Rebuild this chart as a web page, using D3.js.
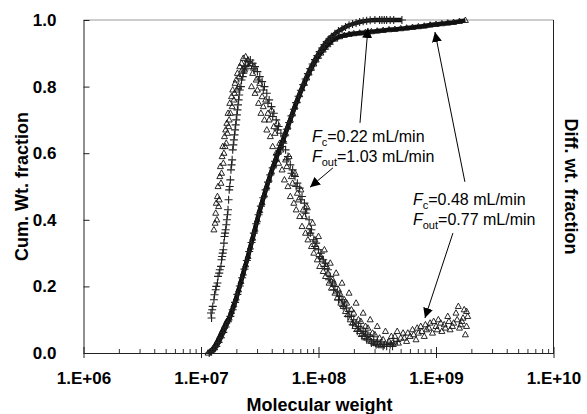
<!DOCTYPE html>
<html>
<head>
<meta charset="utf-8">
<script src="https://cdn.jsdelivr.net/npm/d3@7"></script>
<style>
  body { margin: 0; background: #fff; }
  svg { display: block; }
  text { font-family: "Liberation Sans", Arial, Helvetica, sans-serif; }
</style>
</head>
<body>
<svg id="chart" width="587" height="414"></svg>
<script>
// Axis ticks
const decadeTicks = [1e6, 1e7, 1e8, 1e9, 1e10];
const fractionTicks = [0, 0.2, 0.4, 0.6, 0.8, 1.0];

// Cumulative weight fraction, Fc = 0.22 mL/min (crosses): [log10 MW, fraction]
const cumCross = [
  [7.07,0.000],[7.09,0.004],[7.11,0.010],[7.13,0.020],[7.15,0.032],[7.17,0.046],[7.19,0.062],
  [7.21,0.078],[7.23,0.094],[7.25,0.110],[7.27,0.130],[7.29,0.152],[7.31,0.176],[7.33,0.201],
  [7.35,0.226],[7.37,0.252],[7.39,0.278],[7.41,0.305],[7.43,0.332],[7.45,0.360],[7.47,0.388],
  [7.49,0.415],[7.51,0.441],[7.53,0.466],[7.55,0.490],[7.57,0.513],[7.59,0.535],[7.61,0.556],
  [7.63,0.576],[7.65,0.596],[7.67,0.615],[7.69,0.633],[7.71,0.652],[7.73,0.672],[7.75,0.692],
  [7.77,0.712],[7.79,0.732],[7.81,0.752],[7.83,0.771],[7.85,0.789],[7.87,0.806],[7.89,0.823],
  [7.91,0.839],[7.93,0.854],[7.95,0.868],[7.97,0.881],[7.99,0.893],[8.01,0.905],[8.03,0.916],
  [8.05,0.926],[8.07,0.935],[8.09,0.943],[8.11,0.950],[8.14,0.959],[8.17,0.967],[8.20,0.973],
  [8.23,0.979],[8.26,0.984],[8.29,0.988],[8.32,0.991],[8.35,0.994],[8.38,0.996],[8.41,0.998],
  [8.44,0.999],[8.48,1.000],[8.52,1.000],[8.54,1.000],[8.56,1.000],[8.58,1.000],[8.61,1.000],
  [8.64,1.000],[8.71,1.000]
];

// Cumulative weight fraction, Fc = 0.48 mL/min (triangles): [log10 MW, fraction]
const cumTriangle = [
  [7.06,0.000],[7.08,0.005],[7.10,0.012],[7.12,0.022],[7.14,0.035],[7.16,0.050],[7.18,0.065],
  [7.20,0.080],[7.22,0.095],[7.24,0.105],[7.26,0.125],[7.28,0.145],[7.30,0.165],[7.32,0.190],
  [7.34,0.215],[7.36,0.240],[7.38,0.265],[7.40,0.290],[7.42,0.318],[7.44,0.345],[7.46,0.372],
  [7.48,0.400],[7.50,0.428],[7.52,0.452],[7.54,0.476],[7.56,0.500],[7.58,0.522],[7.60,0.545],
  [7.62,0.565],[7.64,0.585],[7.66,0.605],[7.68,0.622],[7.70,0.640],[7.72,0.660],[7.74,0.680],
  [7.76,0.700],[7.78,0.720],[7.80,0.740],[7.82,0.758],[7.84,0.776],[7.86,0.794],[7.88,0.810],
  [7.90,0.826],[7.92,0.841],[7.94,0.855],[7.96,0.868],[7.98,0.880],[8.00,0.891],[8.02,0.901],
  [8.04,0.910],[8.06,0.918],[8.08,0.926],[8.10,0.933],[8.14,0.943],[8.18,0.950],[8.22,0.954],
  [8.26,0.957],[8.30,0.959],[8.35,0.961],[8.40,0.963],[8.45,0.965],[8.50,0.967],[8.55,0.969],
  [8.60,0.971],[8.65,0.972],[8.70,0.974],[8.75,0.976],[8.80,0.978],[8.85,0.980],[8.90,0.982],
  [8.95,0.985],[9.00,0.987],[9.05,0.989],[9.10,0.991],[9.15,0.993],[9.20,0.996],[9.25,0.999]
];

// Differential weight fraction, Fc = 0.22 mL/min (crosses): [log10 MW, fraction]
const diffCross = [
  [7.085,0.12],[7.09,0.105],[7.095,0.13],[7.10,0.14],[7.11,0.16],[7.115,0.175],[7.125,0.19],
  [7.13,0.20],[7.14,0.21],[7.145,0.23],[7.155,0.24],[7.16,0.25],[7.17,0.26],[7.175,0.28],
  [7.18,0.29],[7.185,0.30],[7.19,0.31],[7.195,0.33],[7.20,0.35],[7.205,0.36],[7.21,0.37],
  [7.215,0.385],[7.22,0.40],[7.225,0.415],[7.23,0.43],[7.235,0.46],[7.24,0.49],[7.245,0.50],
  [7.25,0.52],[7.255,0.55],[7.26,0.565],[7.265,0.58],[7.27,0.61],[7.275,0.625],[7.28,0.64],
  [7.285,0.655],[7.29,0.67],[7.295,0.685],[7.30,0.70],[7.305,0.715],[7.31,0.73],[7.315,0.745],
  [7.32,0.76],[7.325,0.775],[7.33,0.79],[7.34,0.80],[7.345,0.82],[7.355,0.83],[7.36,0.84],
  [7.37,0.85],[7.38,0.86],[7.40,0.875],[7.42,0.88],[7.44,0.87],[7.45,0.85],[7.46,0.86],
  [7.48,0.845],[7.49,0.82],[7.50,0.83],[7.52,0.815],[7.53,0.79],[7.54,0.80],[7.56,0.78],
  [7.57,0.75],[7.58,0.76],[7.60,0.74],[7.61,0.71],[7.62,0.72],[7.64,0.70],[7.65,0.67],
  [7.66,0.68],[7.68,0.66],[7.69,0.62],[7.70,0.63],[7.72,0.61],[7.73,0.58],[7.74,0.59],
  [7.76,0.565],[7.77,0.54],[7.78,0.55],[7.80,0.53],[7.81,0.50],[7.82,0.51],[7.84,0.495],
  [7.85,0.46],[7.86,0.47],[7.88,0.45],[7.89,0.42],[7.90,0.43],[7.92,0.40],[7.93,0.36],
  [7.94,0.37],[7.96,0.34],[7.97,0.32],[7.98,0.33],[8.00,0.31],[8.01,0.29],[8.02,0.30],
  [8.04,0.28],[8.05,0.26],[8.06,0.27],[8.08,0.25],[8.09,0.22],[8.10,0.23],[8.12,0.21],
  [8.13,0.19],[8.14,0.20],[8.16,0.18],[8.17,0.16],[8.18,0.17],[8.20,0.16],[8.21,0.14],
  [8.22,0.15],[8.24,0.135],[8.25,0.11],[8.26,0.125],[8.28,0.11],[8.29,0.085],[8.30,0.10],
  [8.32,0.09],[8.33,0.065],[8.34,0.08],[8.36,0.075],[8.37,0.05],[8.38,0.065],[8.40,0.06],
  [8.41,0.04],[8.42,0.055],[8.44,0.05],[8.45,0.03],[8.47,0.04],[8.49,0.025],[8.50,0.035],
  [8.53,0.03],[8.55,0.02],[8.56,0.025],[8.58,0.02],[8.59,0.03],[8.61,0.025],[8.63,0.02],
  [8.64,0.03],[8.67,0.035]
];

// Differential weight fraction, Fc = 0.48 mL/min (triangles): [log10 MW, fraction]
const diffTriangle = [
  [7.11,0.37],[7.12,0.39],[7.125,0.42],[7.13,0.45],[7.135,0.40],[7.14,0.47],[7.145,0.50],
  [7.15,0.44],[7.155,0.46],[7.16,0.53],[7.165,0.56],[7.17,0.51],[7.175,0.54],[7.18,0.59],
  [7.185,0.62],[7.19,0.57],[7.195,0.60],[7.20,0.65],[7.205,0.62],[7.21,0.67],[7.215,0.63],
  [7.22,0.69],[7.225,0.66],[7.23,0.72],[7.235,0.68],[7.24,0.70],[7.245,0.75],[7.25,0.72],
  [7.26,0.77],[7.265,0.74],[7.27,0.79],[7.28,0.76],[7.285,0.78],[7.29,0.81],[7.30,0.82],
  [7.305,0.79],[7.31,0.84],[7.32,0.80],[7.325,0.83],[7.33,0.86],[7.345,0.87],[7.35,0.85],
  [7.36,0.885],[7.37,0.85],[7.38,0.89],[7.39,0.87],[7.40,0.88],[7.41,0.86],
  [7.42,0.87],[7.43,0.80],[7.44,0.84],[7.45,0.86],[7.46,0.78],[7.47,0.82],[7.48,0.79],
  [7.49,0.75],[7.50,0.81],[7.51,0.72],[7.52,0.77],[7.53,0.74],[7.54,0.70],[7.55,0.76],
  [7.56,0.67],[7.57,0.72],[7.58,0.70],[7.59,0.65],[7.60,0.73],[7.61,0.62],[7.62,0.68],
  [7.63,0.66],[7.64,0.60],[7.65,0.69],[7.66,0.57],[7.67,0.63],[7.68,0.61],[7.69,0.55],
  [7.70,0.64],[7.71,0.52],[7.72,0.58],[7.73,0.56],[7.74,0.50],[7.75,0.59],[7.76,0.47],
  [7.77,0.53],[7.78,0.51],[7.79,0.45],[7.80,0.54],[7.81,0.43],[7.82,0.48],[7.83,0.46],
  [7.84,0.41],[7.85,0.49],[7.86,0.38],[7.87,0.43],[7.88,0.41],[7.89,0.36],[7.90,0.44],
  [7.91,0.34],[7.92,0.38],[7.93,0.36],[7.94,0.32],[7.95,0.39],[7.96,0.30],[7.97,0.34],
  [7.98,0.32],[7.99,0.28],[8.00,0.35],[8.01,0.26],[8.02,0.29],[8.03,0.28],[8.04,0.245],
  [8.05,0.31],[8.06,0.23],[8.07,0.26],[8.08,0.24],[8.09,0.21],[8.10,0.27],[8.11,0.195],
  [8.12,0.22],[8.13,0.21],[8.14,0.18],[8.15,0.24],[8.16,0.165],[8.17,0.19],[8.18,0.18],
  [8.19,0.15],[8.20,0.21],[8.21,0.14],[8.22,0.16],[8.23,0.125],[8.24,0.15],[8.25,0.115],
  [8.26,0.18],[8.27,0.10],[8.28,0.13],[8.29,0.09],[8.30,0.12],[8.31,0.08],[8.32,0.15],
  [8.33,0.072],[8.34,0.10],[8.35,0.065],[8.36,0.095],[8.37,0.058],[8.38,0.12],[8.39,0.05],
  [8.40,0.08],[8.41,0.045],[8.42,0.075],[8.43,0.04],[8.44,0.10],[8.45,0.035],[8.46,0.06],
  [8.47,0.03],[8.48,0.055],[8.49,0.028],[8.50,0.08],[8.51,0.025],[8.52,0.045],[8.53,0.022],
  [8.55,0.04],[8.57,0.065],[8.60,0.035],[8.62,0.05],[8.63,0.03],[8.65,0.05],[8.67,0.065],
  [8.68,0.03],[8.70,0.045],[8.72,0.06],[8.73,0.045],[8.75,0.035],[8.76,0.06],[8.78,0.05],
  [8.80,0.07],[8.81,0.055],[8.83,0.04],[8.84,0.075],[8.85,0.06],[8.87,0.08],[8.88,0.065],
  [8.90,0.05],[8.91,0.085],[8.92,0.07],[8.94,0.075],[8.95,0.09],[8.97,0.06],[8.98,0.095],
  [9.00,0.08],[9.01,0.07],[9.02,0.10],[9.04,0.09],[9.05,0.065],[9.07,0.085],[9.08,0.075],
  [9.10,0.11],[9.11,0.095],[9.12,0.07],[9.14,0.08],[9.15,0.09],[9.17,0.12],[9.18,0.10],
  [9.19,0.14],[9.20,0.075],[9.21,0.085],[9.22,0.095],[9.23,0.105],[9.24,0.13],[9.25,0.055],
  [9.26,0.08],[9.26,0.125],[9.27,0.11]
];

// Flow-rate callouts: text anchor and arrow tail/tip, all as [log10 MW, fraction]
const callouts = [
  { lines: [["c", "0.22 mL/min"], ["out", "1.03 mL/min"]], at: [7.944, 0.634],
    arrows: [ { from: [8.353, 0.691], to: [8.421, 0.976] },
              { from: [8.123, 0.556], to: [7.928, 0.498] } ] },
  { lines: [["c", "0.48 mL/min"], ["out", "0.77 mL/min"]], at: [8.804, 0.444],
    arrows: [ { from: [9.246, 0.514], to: [8.991, 0.964] },
              { from: [9.144, 0.360], to: [8.906, 0.105] } ] }
];

const svg = d3.select("#chart");
const plotLeft = 83.5, plotRight = 553.5, plotTop = 20, plotBottom = 353;

const x = d3.scaleLog().domain([1e6, 1e10]).range([plotLeft, plotRight]);
const y = d3.scaleLinear().domain([0, 1]).range([plotBottom, plotTop]);
const px = lm => x(Math.pow(10, lm));

// Frame
svg.append("line").attr("x1", plotLeft).attr("x2", plotRight).attr("y1", plotTop).attr("y2", plotTop)
  .attr("stroke", "#9a9a9a").attr("stroke-width", 1);
svg.append("line").attr("x1", plotRight).attr("x2", plotRight).attr("y1", plotTop).attr("y2", plotBottom)
  .attr("stroke", "#222").attr("stroke-width", 1);

const labelFont = "Liberation Sans, Arial, sans-serif";

// Left axis with inward ticks
const yAxis = d3.axisLeft(y).tickValues(fractionTicks).tickFormat(d3.format(".1f"))
  .tickSizeInner(-6).tickSizeOuter(0).tickPadding(27);
const gy = svg.append("g").attr("transform", `translate(${plotLeft},0)`).call(yAxis);
gy.select(".domain").attr("stroke", "#222");
gy.selectAll(".tick line").attr("stroke", "#222");
gy.selectAll(".tick text").attr("font-size", 17).attr("font-weight", "bold")
  .attr("fill", "#000").attr("font-family", labelFont);

// Bottom axis: labelled decades crossing the axis, minor ticks inside
const minorTicks = [];
decadeTicks.slice(0, -1).forEach(d => { for (let k = 2; k <= 9; k++) minorTicks.push(d * k); });

const xAxis = d3.axisBottom(x).tickValues(decadeTicks)
  .tickFormat(d => "1.E+" + String(Math.round(Math.log10(d))).padStart(2, "0"))
  .tickSizeInner(5).tickSizeOuter(0).tickPadding(14);
const gx = svg.append("g").attr("transform", `translate(0,${plotBottom})`).call(xAxis);
gx.select(".domain").attr("stroke", "#222");
gx.selectAll(".tick line").attr("stroke", "#222");
gx.selectAll(".tick text").attr("font-size", 17).attr("font-weight", "bold")
  .attr("fill", "#000").attr("font-family", labelFont);

const gxIn = svg.append("g").attr("transform", `translate(0,${plotBottom})`)
  .call(d3.axisBottom(x).tickValues(decadeTicks).tickFormat("").tickSizeInner(-6).tickSizeOuter(0));
gxIn.select(".domain").remove();
gxIn.selectAll(".tick line").attr("stroke", "#222");

const gxMinor = svg.append("g").attr("transform", `translate(0,${plotBottom})`)
  .call(d3.axisBottom(x).tickValues(minorTicks).tickFormat("").tickSizeInner(-4).tickSizeOuter(0));
gxMinor.select(".domain").remove();
gxMinor.selectAll(".tick line").attr("stroke", "#333");

// Axis titles
svg.append("text").attr("x", (plotLeft + plotRight) / 2 + 1).attr("y", 411).attr("text-anchor", "middle")
  .attr("font-size", 18).attr("font-weight", "bold").text("Molecular weight");
svg.append("text").attr("transform", `translate(28,${(plotTop + plotBottom) / 2}) rotate(-90)`)
  .attr("text-anchor", "middle").attr("font-size", 18).attr("font-weight", "bold")
  .text("Cum. Wt. fraction");
svg.append("text").attr("transform", `translate(565,${(plotTop + plotBottom) / 2}) rotate(90)`)
  .attr("text-anchor", "middle").attr("font-size", 18).attr("font-weight", "bold")
  .text("Diff. wt. fraction");

// Marker shapes
const triPath = "M0,-3.3L3,2.1L-3,2.1Z";
const crossPath = "M-4,0H4M0,-4V4";

const plot = svg.append("g");
const band = d3.line().x(d => px(d[0])).y(d => y(d[1])).curve(d3.curveMonotoneX);

function drawBand(data) {
  plot.append("path").datum(data).attr("d", band)
    .attr("fill", "none").attr("stroke", "#111").attr("stroke-width", 4.4);
}
function drawPoints(data, shape, stroke, width) {
  plot.append("g").selectAll("path").data(data).join("path")
    .attr("transform", d => `translate(${px(d[0])},${y(d[1])})`)
    .attr("d", shape).attr("fill", "none").attr("stroke", stroke).attr("stroke-width", width);
}

drawBand(cumTriangle);
drawBand(cumCross);
drawPoints(cumTriangle, triPath, "#111", 0.9);
drawPoints(cumCross, crossPath, "#222", 1.1);
drawPoints(diffTriangle, triPath, "#111", 0.9);
drawPoints(diffCross, crossPath, "#222", 1.1);

// Callouts
svg.append("defs").append("marker").attr("id", "head").attr("viewBox", "0 0 10 10")
  .attr("refX", 10).attr("refY", 5).attr("markerWidth", 10).attr("markerHeight", 10)
  .attr("markerUnits", "userSpaceOnUse").attr("orient", "auto")
  .append("path").attr("d", "M0,0L10,5L0,10Z").attr("fill", "#000");

callouts.forEach(c => {
  c.lines.forEach((ln, i) => {
    const t = svg.append("text").attr("x", px(c.at[0])).attr("y", y(c.at[1]) + i * 20)
      .attr("font-size", 16).attr("fill", "#000");
    t.append("tspan").attr("font-style", "italic").text("F");
    t.append("tspan").attr("font-size", 11).attr("dy", 4).text(ln[0]);
    t.append("tspan").attr("dy", -4).text("=" + ln[1]);
  });
  c.arrows.forEach(a => {
    svg.append("line").attr("x1", px(a.from[0])).attr("y1", y(a.from[1]))
      .attr("x2", px(a.to[0])).attr("y2", y(a.to[1]))
      .attr("stroke", "#000").attr("stroke-width", 1).attr("marker-end", "url(#head)");
  });
});
</script>
</body>
</html>
